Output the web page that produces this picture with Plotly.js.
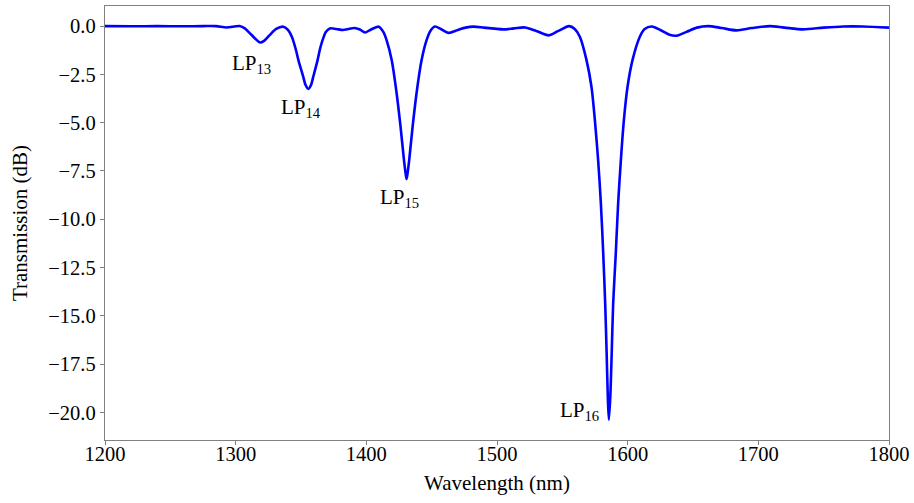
<!DOCTYPE html>
<html>
<head>
<meta charset="utf-8">
<script src="https://cdn.plot.ly/plotly-3.0.1.min.js"></script>
<style>html,body{margin:0;padding:0;background:#fff;}#chart{width:914px;height:503px;}</style>
</head>
<body>
<div id="chart"></div>
<script>
// Wavelength (nm)
const wavelength = [1200,1220,1240,1260,1275,1285,1293,1300,1303,1307,1312,1318.6,1322,1326,1331,1336.5,1340,1343,1346,1348,1351.7,1353.5,1355.6,1357.7,1359.4,1362.7,1364.5,1366.5,1369,1372.1,1377,1382,1387,1391,1395,1399,1403,1409.5,1413,1415.5,1419.4,1423.2,1426.2,1428.8,1430,1430.8,1431.6,1432.8,1435.4,1438.4,1442.3,1446.1,1449,1452.5,1457,1463,1470,1476,1482,1490,1498,1505,1513,1521.4,1530,1539.7,1547,1555.2,1559.5,1563.4,1568.5,1572.3,1574.9,1577.4,1579.5,1581.3,1582.8,1583.9,1584.8,1585.6,1586.7,1587.8,1588.9,1590.9,1592.7,1594.8,1597.1,1599.9,1603.7,1609.3,1613,1618.5,1625,1632,1637.4,1645,1653,1661.6,1672,1683.3,1695,1708.8,1720,1734.3,1750,1765,1780,1800];
// Transmission (dB)
const transmission = [0.0,-0.01,0.0,-0.01,0.0,0.0,-0.07,-0.01,0.0,-0.12,-0.45,-0.85,-0.75,-0.47,-0.15,-0.03,-0.2,-0.55,-1.2,-1.76,-2.62,-3.05,-3.25,-3.05,-2.62,-1.76,-1.2,-0.73,-0.3,-0.12,-0.15,-0.2,-0.14,-0.1,-0.18,-0.33,-0.2,-0.03,-0.3,-0.73,-1.76,-3.49,-5.22,-6.94,-7.6,-7.92,-7.6,-6.94,-5.22,-3.49,-1.76,-0.73,-0.25,-0.02,-0.15,-0.35,-0.2,-0.08,-0.03,-0.08,-0.13,-0.17,-0.12,-0.07,-0.25,-0.48,-0.25,0.0,-0.15,-0.55,-1.76,-3.14,-4.87,-6.94,-9.19,-11.78,-14.37,-16.9,-19.2,-20.38,-19.2,-16.9,-14.37,-11.78,-9.19,-6.94,-4.87,-3.14,-1.76,-0.55,-0.15,-0.02,-0.2,-0.45,-0.5,-0.3,-0.08,0.0,-0.1,-0.22,-0.1,0.0,-0.08,-0.17,-0.08,-0.02,-0.02,-0.08];
// Mode labels
const modeNames = ['LP<sub>13</sub>','LP<sub>14</sub>','LP<sub>15</sub>','LP<sub>16</sub>'];
const labelX = [1295.6, 1333, 1408.9, 1547];
const labelY = [-1.95, -4.25, -8.92, -19.95];
const xTicks = [1200,1300,1400,1500,1600,1700,1800];
const yTicks = [0,-2.5,-5,-7.5,-10,-12.5,-15,-17.5,-20];

const FAM = 'Liberation Serif, Times New Roman, serif';
const tickFont = {family: FAM, size: 20.5, color: '#000'};
const titleFont = {family: FAM, size: 21, color: '#000'};

const trace = {
  x: wavelength, y: transmission, type: 'scatter', mode: 'lines',
  line: {color: '#0000ff', width: 2.6, shape: 'spline', smoothing: 0.8},
  hoverinfo: 'skip'
};

const annotations = modeNames.map((t, i) => ({
  x: labelX[i], y: labelY[i], xref: 'x', yref: 'y', text: t, showarrow: false,
  xanchor: 'left', yanchor: 'middle', font: {family: FAM, size: 21, color: '#000'}
}));

const layout = {
  width: 914, height: 503,
  margin: {l: 105, r: 25, t: 6, b: 63, pad: 0},
  paper_bgcolor: '#fff', plot_bgcolor: '#fff',
  font: tickFont,
  showlegend: false,
  xaxis: {
    range: [1200, 1800], tickvals: xTicks, ticktext: xTicks.map(String),
    showgrid: false, zeroline: false, showline: true, mirror: true,
    linecolor: '#808080', linewidth: 1.2, ticks: 'outside', ticklen: 4, tickcolor: '#808080',
    ticklabelstandoff: -9,
    tickfont: tickFont, title: {text: 'Wavelength (nm)', font: titleFont, standoff: 11}
  },
  yaxis: {
    range: [-21.43, 1.04], tickvals: yTicks, tickformat: '.1f',
    showgrid: false, zeroline: false, showline: true, mirror: true,
    linecolor: '#808080', linewidth: 1.2, ticks: 'outside', ticklen: 4, tickcolor: '#808080',
    tickfont: tickFont, title: {text: 'Transmission (dB)', font: titleFont, standoff: 15}
  },
  annotations: annotations
};

Plotly.newPlot('chart', [trace], layout, {displayModeBar: false, staticPlot: true});
</script>
</body>
</html>
